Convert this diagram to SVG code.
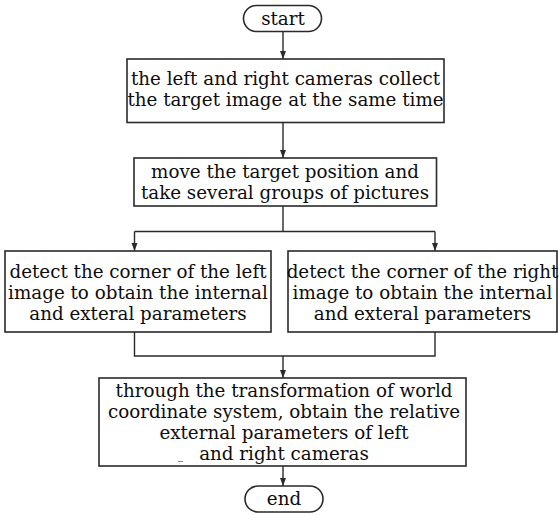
<svg xmlns="http://www.w3.org/2000/svg" width="559" height="515" viewBox="0 0 559 515">
  <style>
    .box { fill: #ffffff; stroke: #2a2a2a; stroke-width: 1.6; }
    .lbl { font-family: "DejaVu Serif", "Liberation Serif", serif; font-size: 18.3px; fill: #0d0d0d; text-anchor: middle; }
    .wire { fill: none; stroke: #2a2a2a; stroke-width: 1.4; }
  </style>
  <defs>
    <marker id="arrow" viewBox="0 0 8 8" refX="8" refY="4" markerWidth="8" markerHeight="8" markerUnits="userSpaceOnUse" orient="auto">
      <path d="M0,1 L8,4 L0,7 Z" fill="#2a2a2a"/>
    </marker>
  </defs>
  <rect width="559" height="515" fill="#ffffff"/>

  <g id="connectors">
    <line class="wire" x1="283" y1="32" x2="283" y2="59" marker-end="url(#arrow)"/>
    <line class="wire" x1="283" y1="122.5" x2="283" y2="158" marker-end="url(#arrow)"/>
    <polyline class="wire" points="283,206 283,231.5"/>
    <polyline class="wire" points="134.5,231.5 435,231.5"/>
    <line class="wire" x1="134.5" y1="231.5" x2="134.5" y2="251" marker-end="url(#arrow)"/>
    <line class="wire" x1="435" y1="231.5" x2="435" y2="251" marker-end="url(#arrow)"/>
    <polyline class="wire" points="134.5,332 134.5,356 435,356 435,332"/>
    <line class="wire" x1="283" y1="356" x2="283" y2="378" marker-end="url(#arrow)"/>
    <line class="wire" x1="283" y1="466" x2="283" y2="486" marker-end="url(#arrow)"/>
  </g>

  <g id="start">
    <rect class="box" x="243.5" y="5.5" width="78" height="26" rx="13"/>
    <text class="lbl" x="283" y="25">start</text>
  </g>

  <g id="collect">
    <rect class="box" x="127" y="59" width="317" height="63.5"/>
    <text class="lbl" x="285.5" y="85">the left and right cameras collect</text>
    <text class="lbl" x="285.5" y="106">the target image at the same time</text>
  </g>

  <g id="move">
    <rect class="box" x="134" y="158" width="302.5" height="48"/>
    <text class="lbl" x="285" y="178">move the target position and</text>
    <text class="lbl" x="285" y="199">take several groups of pictures</text>
  </g>

  <g id="left-corner">
    <rect class="box" x="5" y="251" width="266" height="81"/>
    <text class="lbl" x="138" y="278">detect the corner of the left</text>
    <text class="lbl" x="138" y="299">image to obtain the internal</text>
    <text class="lbl" x="138" y="320">and exteral parameters</text>
  </g>

  <g id="right-corner">
    <rect class="box" x="288" y="251" width="269" height="81"/>
    <text class="lbl" x="422.5" y="278">detect the corner of the right</text>
    <text class="lbl" x="422.5" y="299">image to obtain the internal</text>
    <text class="lbl" x="422.5" y="320">and exteral parameters</text>
  </g>

  <g id="transform">
    <rect class="box" x="99" y="378" width="367" height="88"/>
    <text class="lbl" x="284" y="397">through the transformation of world</text>
    <text class="lbl" x="284" y="418">coordinate system, obtain the relative</text>
    <text class="lbl" x="284" y="439">external parameters of left</text>
    <text class="lbl" x="284" y="460">and right cameras</text>
    <line x1="178" y1="461.5" x2="183" y2="461.5" stroke="#888888" stroke-width="1"/>
  </g>

  <g id="end">
    <rect class="box" x="245" y="486" width="78" height="26" rx="13"/>
    <text class="lbl" x="284" y="505">end</text>
  </g>
</svg>
